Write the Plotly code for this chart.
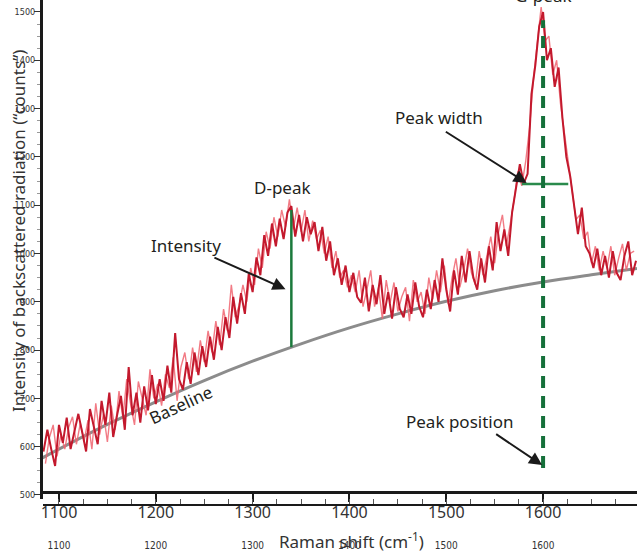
import plotly.graph_objects as go

# ---------------- data ----------------
dark_x = [1084 + 4 * i for i in range(154)]
dark_y = [
    590, 635, 595, 560, 645, 608, 660, 595, 632, 668,
    630, 590, 678, 640, 605, 695, 645, 712, 620, 665,
    705, 635, 765, 665, 712, 650, 725, 675, 748, 688,
    740, 695, 768, 712, 835, 740, 718, 775, 730, 795,
    748, 808, 765, 828, 780, 848, 800, 868, 825, 910,
    855, 918, 875, 958, 920, 992, 955, 1038, 995, 1062,
    1015, 1072, 1030, 1085, 1098, 1035, 1080, 1025, 1075, 1040,
    1065, 1005, 1055, 985, 1025, 955, 990, 935, 975, 920,
    960, 910, 898, 950, 880, 935, 895, 955, 875, 920,
    865, 930, 885, 868, 915, 875, 940, 890, 868, 925,
    885, 945, 900, 990, 925, 880, 965, 915, 995, 940,
    1005, 950, 925, 990, 940, 1015, 965, 1065, 1005, 1050,
    995, 1085, 1140, 1185, 1145, 1165, 1330, 1390, 1470, 1500,
    1400, 1425, 1345, 1385, 1280, 1200, 1160, 1100, 1040, 1095,
    1015, 1000, 970, 1010, 955, 995, 950, 1005, 960, 945,
    995, 1025, 955, 985,
]

light_x = [1086 + 4 * i for i in range(153)]
light_y = [
    565, 618, 645, 580, 625, 595, 640, 662, 605, 648,
    612, 655, 595, 690, 625, 668, 610, 685, 635, 715,
    660, 740, 688, 645, 735, 698, 665, 760, 700, 730,
    685, 750, 722, 785, 695, 765, 795, 740, 805, 755,
    820, 775, 840, 795, 860, 810, 885, 840, 935, 868,
    892, 935, 900, 970, 935, 1010, 970, 1045, 1010, 1075,
    1035, 1090, 1055, 1112, 1050, 1095, 1045, 1090, 1025, 1068,
    1030, 1048, 1000, 1035, 970, 1005, 950, 965, 930, 955,
    920, 965, 890, 925, 965, 890, 930, 865, 945, 898,
    940, 880, 910, 930, 860, 945, 900, 920, 875, 950,
    905, 965, 920, 975, 895, 950, 990, 930, 965, 1010,
    960, 935, 1005, 955, 995, 1035, 980, 1045, 1080, 1015,
    1060, 1110, 1170, 1140, 1190, 1260, 1360, 1430, 1510, 1440,
    1450, 1370, 1400, 1310, 1250, 1180, 1120, 1070, 1080, 1030,
    1045, 980, 1015, 965, 1005, 970, 1015, 955, 990, 1020,
    965, 1000, 1005,
]

base_x = [1083, 1150, 1200, 1250, 1300, 1350, 1400, 1450, 1500, 1550, 1600, 1650, 1697]
base_y = [577, 646, 693, 737, 777, 813, 846, 875, 901, 923, 941, 956, 969]

x_ticks = [1100, 1200, 1300, 1400, 1500, 1600]
y_ticks = [500, 600, 700, 800, 900, 1000, 1100, 1200, 1300, 1400, 1500]

d_peak_x, d_peak_top, d_peak_base = 1340, 1090, 806
g_peak_x, g_top, g_bottom = 1600, 1483, 556
width_left, width_right, width_level = 1578, 1626, 1144

# ---------------- figure ----------------
W, H = 637, 554
XR = [1083.5, 1697]
YR = [491.7, 1524.8]
TXT = "#231f20"
FONT = "Noto Sans"
NARROW = "Liberation Sans Narrow, DejaVu Sans Condensed, sans-serif"

fig = go.Figure()
fig.add_trace(go.Scatter(x=base_x, y=base_y, mode="lines", line=dict(color="#8c8c8c", width=3, shape="spline"),
                         xaxis="x", yaxis="y", hoverinfo="skip"))
fig.add_trace(go.Scatter(x=light_x, y=light_y, mode="lines", line=dict(color="rgba(240,100,112,0.85)", width=1.4),
                         xaxis="x2", yaxis="y", hoverinfo="skip"))
fig.add_trace(go.Scatter(x=dark_x, y=dark_y, mode="lines", line=dict(color="#c3192d", width=2),
                         xaxis="x3", yaxis="y", hoverinfo="skip"))

def pos(py):
    return (H - py) / H

common = dict(range=XR, showgrid=False, zeroline=False, fixedrange=True)
fig.update_layout(
    width=W, height=H,
    margin=dict(l=43, r=0, t=0, b=0),
    paper_bgcolor="white", plot_bgcolor="white",
    showlegend=False,
    yaxis=dict(range=YR, domain=[pos(499), 1], showgrid=False, zeroline=False,
               showline=True, linecolor="#1a1a1a", linewidth=3,
               tickmode="array", tickvals=y_ticks, ticktext=[str(v) for v in y_ticks],
               ticks="outside", ticklen=6, tickwidth=1, tickcolor="#333", ticklabelstandoff=-3,
               tickfont=dict(family=NARROW, size=9, color="#333"),
               minor=dict(dtick=25, ticks="outside", ticklen=3, tickcolor="#999", tickwidth=1)),
    xaxis=dict(**common, anchor="free", position=pos(492),
               showline=True, linecolor="#1a1a1a", linewidth=2.5,
               tickmode="array", tickvals=x_ticks, ticks="outside", ticklen=8, tickwidth=2,
               tickcolor="#1a1a1a", showticklabels=False),
    xaxis2=dict(**common, overlaying="x", anchor="free", position=pos(505),
                showline=True, linecolor="#1a1a1a", linewidth=2,
                tickmode="array", tickvals=x_ticks, ticktext=[str(v) for v in x_ticks],
                ticks="", ticklabelstandoff=-7, tickfont=dict(family=FONT, size=16, color="#333"),
                minor=dict(dtick=25, ticks="inside", ticklen=5, tickcolor="#555", tickwidth=1)),
    xaxis3=dict(**common, overlaying="x", anchor="free", position=pos(538),
                showline=False, tickmode="array", tickvals=x_ticks,
                ticktext=[str(v) for v in x_ticks], ticks="",
                tickfont=dict(family=NARROW, size=10, color="#333")),
)

green = "#1b7a3c"
fig.add_shape(type="line", x0=d_peak_x, x1=d_peak_x, y0=d_peak_base, y1=d_peak_top,
              xref="x", yref="y", line=dict(color=green, width=2.5))
fig.add_shape(type="line", x0=width_left, x1=width_right, y0=width_level, y1=width_level,
              xref="x", yref="y", line=dict(color="#2a8a4c", width=2.5))
fig.add_shape(type="line", x0=g_peak_x, x1=g_peak_x, y0=g_bottom, y1=g_top,
              xref="x", yref="y", line=dict(color="#15703a", width=4, dash="12px,8px"))

def label(text, x, y, size=17, angle=0):
    fig.add_annotation(text=text, x=x, y=y, xref="x", yref="y", showarrow=False,
                       textangle=angle, font=dict(family=FONT, size=size, color=TXT))

def arrow(x0, y0, x1, y1):
    fig.add_annotation(text="", x=x1, y=y1, ax=x0, ay=y0, xref="x", yref="y",
                       axref="x", ayref="y", showarrow=True, arrowhead=2, arrowsize=1.3,
                       arrowwidth=2, arrowcolor="#1a1a1a")

label("D-peak", 1331, 1136)
label("Intensity", 1231, 1016)
label("Peak width", 1493, 1281)
label("Peak position", 1514, 653)
label("Baseline", 1226, 688, angle=-25)
fig.add_annotation(text="G-peak", x=g_peak_x, y=pos(-5), xref="x", yref="paper", showarrow=False,
                   yanchor="middle", font=dict(family=FONT, size=17, color=TXT))

arrow(1259, 993, 1334, 926)
arrow(1498, 1254, 1583, 1146)
arrow(1550, 628, 1599, 562)

fig.add_annotation(text="Intensity of backscattered radiation (“counts”)", xref="paper", yref="paper",
                   x=-25 / 594, y=pos(231), xanchor="center", yanchor="middle", textangle=-90,
                   showarrow=False, font=dict(family=FONT, size=17, color="#333"))
fig.add_annotation(text="Raman shift (cm<sup>-1</sup>)", xref="paper", yref="paper",
                   x=(351 - 43) / 594, y=pos(540), xanchor="center", yanchor="middle",
                   showarrow=False, font=dict(family=FONT, size=17, color="#333"))

fig.write_html("out.html")
